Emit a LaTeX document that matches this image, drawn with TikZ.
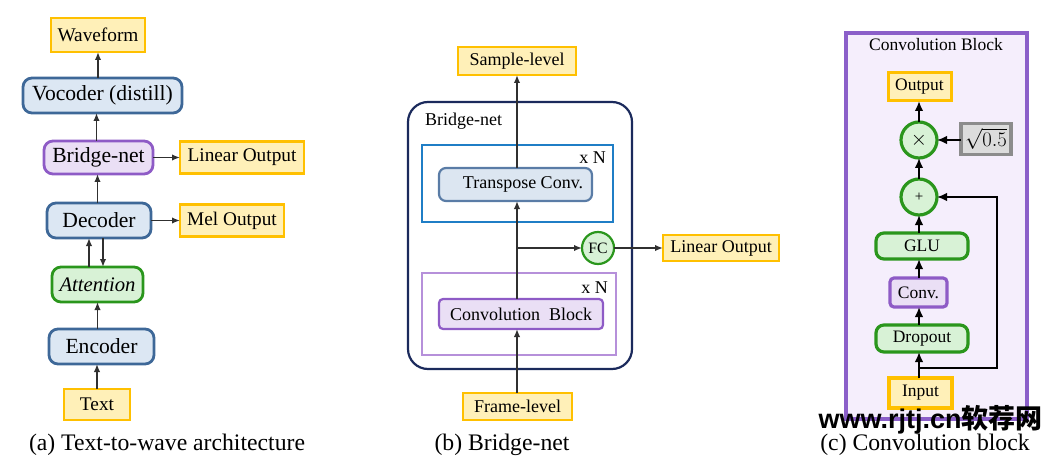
\documentclass[tikz,border=0pt]{standalone}
\usepackage{fontspec}
\setmainfont{Liberation Serif}
\newfontfamily\wmlatin{Liberation Sans}
\newfontfamily\wmcjk{Noto Sans CJK SC}
\usetikzlibrary{arrows.meta}
\definecolor{yelD}{HTML}{FFC000}
\definecolor{yelF}{HTML}{FFF0B8}
\definecolor{bluD}{HTML}{3E6898}
\definecolor{bluF}{HTML}{DCE7F3}
\definecolor{purD}{HTML}{8E5BC6}
\definecolor{purF}{HTML}{EADFF5}
\definecolor{grnD}{HTML}{2A961C}
\definecolor{grnF}{HTML}{D8F2D6}
\definecolor{navy}{HTML}{1B2A5C}
\definecolor{boxB}{HTML}{1F7EC6}
\definecolor{boxP}{HTML}{B690DA}
\definecolor{trD}{HTML}{5A7CA6}
\definecolor{trF}{HTML}{DCE6F1}
\definecolor{lavF}{HTML}{F5EEFC}
\definecolor{lavD}{HTML}{8B5FC9}
\definecolor{gryD}{HTML}{8C8C8C}
\definecolor{gryF}{HTML}{DCDCDC}
\definecolor{lnC}{HTML}{303030}
\tikzset{
  x=1pt, y=-1pt,
  fsA/.style={font=\fontsize{21.6}{24}\selectfont},
  fsY/.style={font=\fontsize{19.3}{22}\selectfont},
  fsB/.style={font=\fontsize{18}{21}\selectfont},
  fsC/.style={font=\fontsize{17.5}{20}\selectfont},
  fsCap/.style={font=\fontsize{23.7}{26}\selectfont},
  base/.style={inner sep=0pt, outer sep=0pt},
  ybox/.style={base, draw=yelD, fill=yelF, line width=2.8pt},
  bnode/.style={base, draw=bluD, fill=bluF, line width=2.8pt, rounded corners=9pt},
  pnode/.style={base, draw=purD, fill=purF, line width=2.8pt, rounded corners=9pt},
  gnode/.style={base, draw=grnD, fill=grnF, line width=2.8pt, rounded corners=9pt},
  gcirc/.style={base, circle, draw=grnD, fill=grnF, line width=3.2pt},
  arr/.style={draw=lnC, line width=1.6pt, -{Latex[length=8pt,width=6.5pt]}},
  arrc/.style={draw=black, line width=1.8pt, -{Latex[length=10pt,width=8.5pt]}},
}
\begin{document}
\begin{tikzpicture}
\useasboundingbox (0,0) rectangle (1054,465);
% ---------------- panel (a) ----------------
\node[ybox, fsY, minimum width=94pt, minimum height=34pt] (wave) at (98,35) {Waveform};
\node[bnode, fsA, minimum width=159pt, minimum height=35pt] (voc) at (102.5,95.5) {Vocoder (distill)};
\node[pnode, fsA, minimum width=109pt, minimum height=33pt] (bri) at (98.5,157.5) {Bridge-net};
\node[ybox, fsY, minimum width=124pt, minimum height=32pt] (lina) at (242,157.5) {Linear Output};
\node[bnode, fsA, minimum width=104pt, minimum height=35pt] (dec) at (99,220.5) {Decoder};
\node[ybox, fsY, minimum width=104pt, minimum height=32pt] (mel) at (232,220.5) {Mel Output};
\node[gnode, font=\fontsize{20.7}{23}\selectfont\itshape, minimum width=91pt, minimum height=35pt] (att) at (97.5,284.5) {Attention};
\node[bnode, fsA, minimum width=105pt, minimum height=35pt] (enc) at (101.5,346.5) {Encoder};
\node[ybox, fsY, minimum width=66pt, minimum height=31pt] (txt) at (97,404.5) {Text};
\node[base, fsCap] (capa) at (167,445) {(a) Text-to-wave architecture};

\draw[arr] (wave.south |- voc.north) -- (wave.south);
\draw[arr] ([xshift=-2pt]bri.north) -- ([xshift=-2pt]bri.north |- voc.south);
\draw[arr] ([xshift=-1.5pt]dec.north) -- ([xshift=-1.5pt]dec.north |- bri.south);
\draw[arr] ([xshift=-8.5pt]att.north) -- ([xshift=-8.5pt]att.north |- dec.south);
\draw[arr] ([xshift=5.5pt]att.north |- dec.south) -- ([xshift=5.5pt]att.north);
\draw[arr] (att.south |- enc.north) -- (att.south);
\draw[arr] (txt.north) -- (txt.north |- enc.south);
\draw[arr] (bri.east) -- (bri.east -| lina.west);
\draw[arr] (dec.east) -- (dec.east -| mel.west);

% ---------------- panel (b) ----------------
\node[ybox, fsB, minimum width=118pt, minimum height=28pt] (samp) at (517,61) {Sample-level};
\draw[draw=navy, line width=2.2pt, rounded corners=20pt] (408,102) rectangle (632,369);
\node[base, fsB] (bnlab) at (463.5,121) {Bridge-net};
\draw[draw=boxB, line width=2.2pt] (422,145) rectangle (613,222);
\node[base, fsB] (xn1) at (592.5,158) {x N};
\node[base, fsB, draw=trD, fill=trF, line width=2.2pt, rounded corners=7pt, minimum width=153pt, minimum height=33pt] (trans) at (515.5,184.5) {\hspace*{15pt}Transpose Conv.};
\draw[draw=boxP, line width=2.2pt] (422,273) rectangle (616,355);
\node[base, fsB] (xn2) at (594.5,288) {x N};
\node[base, fsB, draw=purD, fill=purF, line width=2.2pt, rounded corners=4pt, minimum width=164pt, minimum height=30pt] (convb) at (521,314) {Convolution\ \ Block};
\node[gcirc, line width=2.2pt, font=\fontsize{15.8}{18}\selectfont, minimum size=32pt] (fc) at (598,248) {FC};
\node[ybox, fsB, minimum width=116pt, minimum height=26pt] (linb) at (721,248) {Linear Output};
\node[ybox, fsB, minimum width=109pt, minimum height=27pt] (frame) at (517.5,406.5) {Frame-level};
\node[base, fsCap] (capb) at (502,445) {(b) Bridge-net};

\coordinate (br) at (517,248);
\draw[arr] (frame.north -| br) -- (convb.south -| br);
\draw[arr] (convb.north -| br) -- (trans.south -| br);
\draw[arr] (trans.north -| br) -- (samp.south -| br);
\draw[arr] (br) -- (fc.west);
\draw[arr] (fc.east) -- (fc.east -| linb.west);

% ---------------- panel (c) ----------------
\draw[draw=lavD, fill=lavF, line width=3.2pt] (846,33) rectangle (1027,419);
\node[base, fsC] (ctitle) at (936,45) {Convolution Block};
\node[ybox, fsC, line width=3pt, minimum width=63pt, minimum height=28pt] (outc) at (919.5,87) {Output};
\node[gcirc, font=\fontsize{20}{22}\selectfont, minimum size=36pt] (mul) at (919,140) {$\times$};
\node[base, draw=gryD, fill=gryF, line width=3.2pt, minimum width=50pt, minimum height=31pt, font=\fontsize{20}{22}\selectfont] (sq) at (986,139) {$\sqrt{0.5}$};
\node[gcirc, font=\fontsize{15}{17}\selectfont, minimum size=36pt] (plus) at (919,197) {+};
\node[gnode, fsC, line width=3.2pt, rounded corners=8pt, minimum width=92pt, minimum height=26pt] (glu) at (922,246) {GLU};
\node[pnode, fsC, line width=3.2pt, rounded corners=4pt, minimum width=57pt, minimum height=29pt] (conv) at (918.5,292.5) {Conv.};
\node[gnode, fsC, line width=3.2pt, rounded corners=8pt, minimum width=92pt, minimum height=27pt] (drop) at (922,338.5) {Dropout};
\node[ybox, fsC, line width=3.2pt, minimum width=63pt, minimum height=30pt] (inp) at (920.5,393) {Input};

\coordinate (jn) at (919,368);
\coordinate (sk) at (997,197);
\draw[line width=1.8pt] (inp.north -| jn) -- (jn);
\draw[arrc] (jn) -- (drop.south -| jn);
\draw[arrc] (drop.north -| jn) -- (conv.south -| jn);
\draw[arrc] (conv.north -| jn) -- (glu.south -| jn);
\draw[arrc] (glu.north -| jn) -- (plus.south);
\draw[arrc] (plus.north) -- (mul.south);
\draw[arrc] (mul.north) -- (outc.south -| mul);
\draw[arrc] (mul.east -| sq.west) -- (mul.east);
\draw[arrc] (jn) -| (sk) -- (plus.east);

\node[base, font=\fontsize{27}{30}\selectfont\bfseries, text=black] (wm) at (930.5,420) {\wmlatin www.rjtj.cn\wmcjk 软荐网};
\node[base, fsCap] (capc) at (925,445) {(c) Convolution block};
\end{tikzpicture}
\end{document}
